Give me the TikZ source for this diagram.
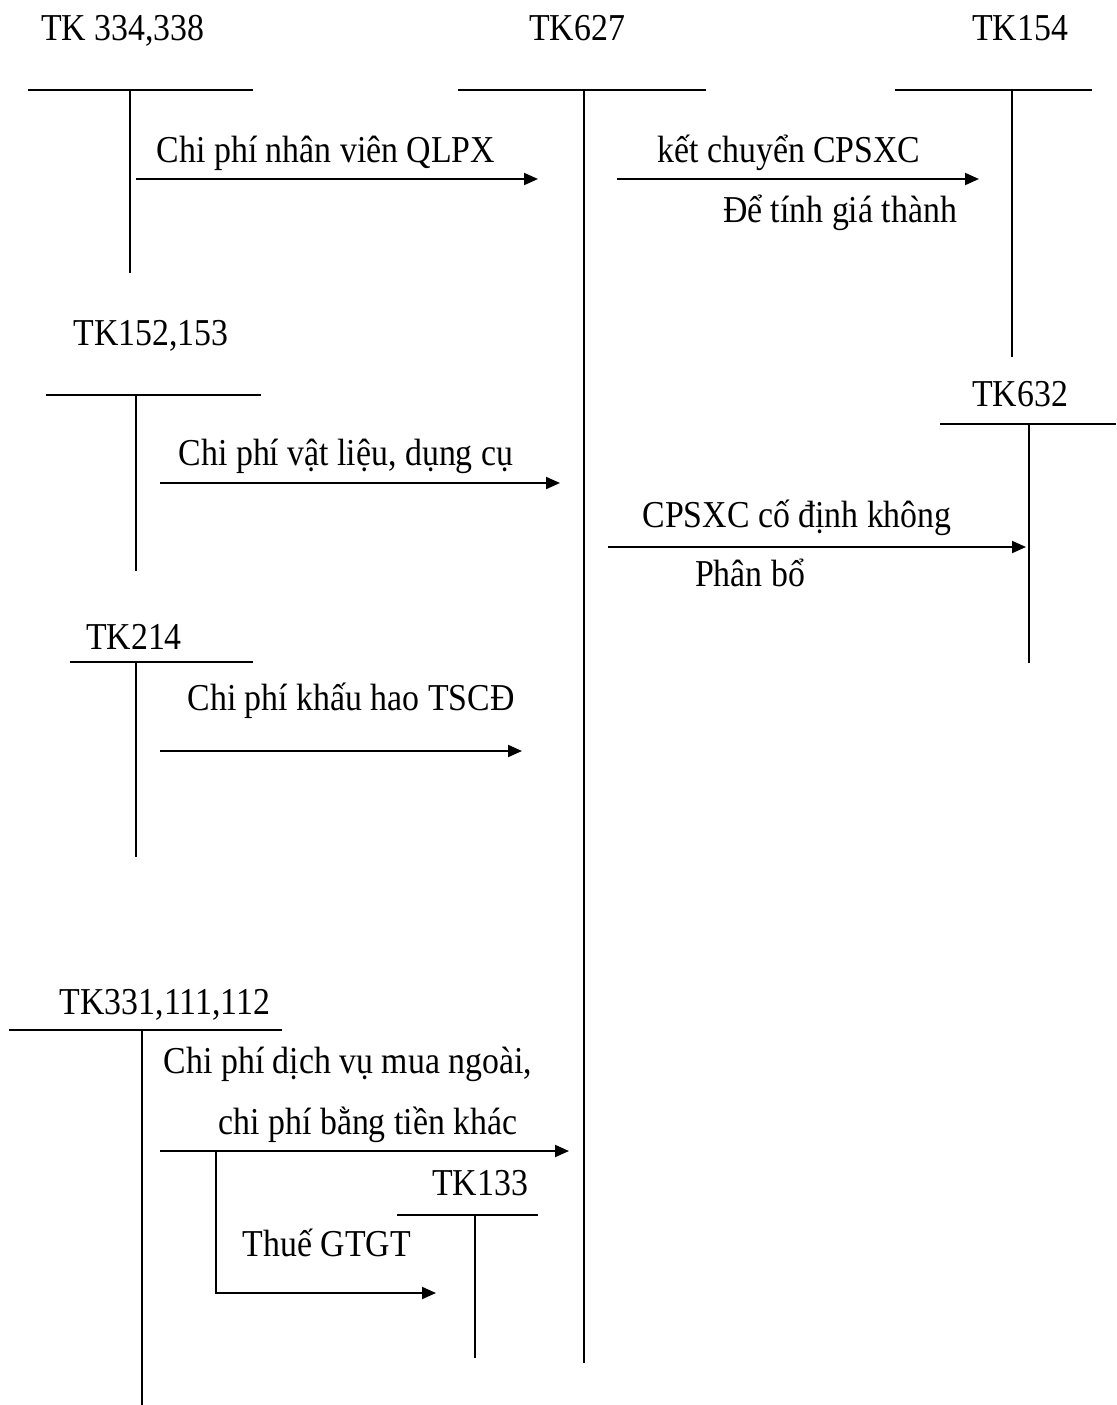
\documentclass[tikz,border=0pt]{standalone}
\usepackage{fontspec}
\setmainfont{Liberation Serif}[FakeStretch=0.89]
\usetikzlibrary{arrows.meta}
\begin{document}
\begin{tikzpicture}[x=1pt,y=-1pt,
  lbl/.style={anchor=base,inner sep=0pt,font=\fontsize{38}{44}\selectfont},
  tline/.style={line width=2pt},
  flow/.style={line width=2pt,-{Triangle[length=14pt,width=12pt]}}]
\useasboundingbox[fill=white] (0,0) rectangle (1116,1405);

% T-accounts
\node[lbl] (t334) at (123,41) {TK 334,338};
\draw[tline] (28,90) -- (253,90) (130,90) -- (130,273);

\node[lbl] (t627) at (577,41) {TK627};
\draw[tline] (458,90) -- (706,90) (584,90) -- (584,1363);

\node[lbl] (t154) at (1020,41) {TK154};
\draw[tline] (895,90) -- (1092,90) (1012,90) -- (1012,357);

\node[lbl] (t152) at (151,345) {TK152,153};
\draw[tline] (46,395) -- (261,395) (136,395) -- (136,571);

\node[lbl] (t632) at (1020,406) {TK632};
\draw[tline] (940,424) -- (1116,424) (1029,424) -- (1029,663);

\node[lbl] (t214) at (134,649) {TK214};
\draw[tline] (70,662) -- (253,662) (136,662) -- (136,857);

\node[lbl] (t331) at (165,1014) {TK331,111,112};
\draw[tline] (9,1030) -- (282,1030) (142,1030) -- (142,1405);

\node[lbl] (t133) at (480,1195) {TK133};
\draw[tline] (397,1215) -- (538,1215) (475,1215) -- (475,1358);

% flows
\coordinate (a1s) at (136,179); \coordinate (a1e) at (538,179);
\draw[flow] (a1s) -- (a1e);
\node[lbl] (l1) at (326,162) {Chi phí nhân viên QLPX};

\coordinate (a2s) at (617,179); \coordinate (a2e) at (979,179);
\draw[flow] (a2s) -- (a2e);
\node[lbl] (l2a) at (789,162) {kết chuyển CPSXC};
\node[lbl] (l2b) at (840,222) {Để tính giá thành};

\coordinate (a3s) at (160,483); \coordinate (a3e) at (560,483);
\draw[flow] (a3s) -- (a3e);
\node[lbl] (l3) at (346,465) {Chi phí vật liệu, dụng cụ};

\coordinate (a4s) at (608,547); \coordinate (a4e) at (1026,547);
\draw[flow] (a4s) -- (a4e);
\node[lbl] (l4a) at (797,527) {CPSXC cố định không};
\node[lbl] (l4b) at (750,586) {Phân bổ};

\coordinate (a5s) at (160,751); \coordinate (a5e) at (522,751);
\draw[flow] (a5s) -- (a5e);
\node[lbl] (l5) at (351,710) {Chi phí khấu hao TSCĐ};

\coordinate (a6s) at (160,1151); \coordinate (a6e) at (569,1151);
\draw[flow] (a6s) -- (a6e);
\node[lbl] (l6a) at (348,1073) {Chi phí dịch vụ mua ngoài,};
\node[lbl] (l6b) at (368,1134) {chi phí bằng tiền khác};

\coordinate (a7s) at (216,1150); \coordinate (a7e) at (436,1293);
\draw[flow] (a7s) |- (a7e);
\node[lbl] (l7) at (327,1256) {Thuế GTGT};

\end{tikzpicture}
\end{document}
